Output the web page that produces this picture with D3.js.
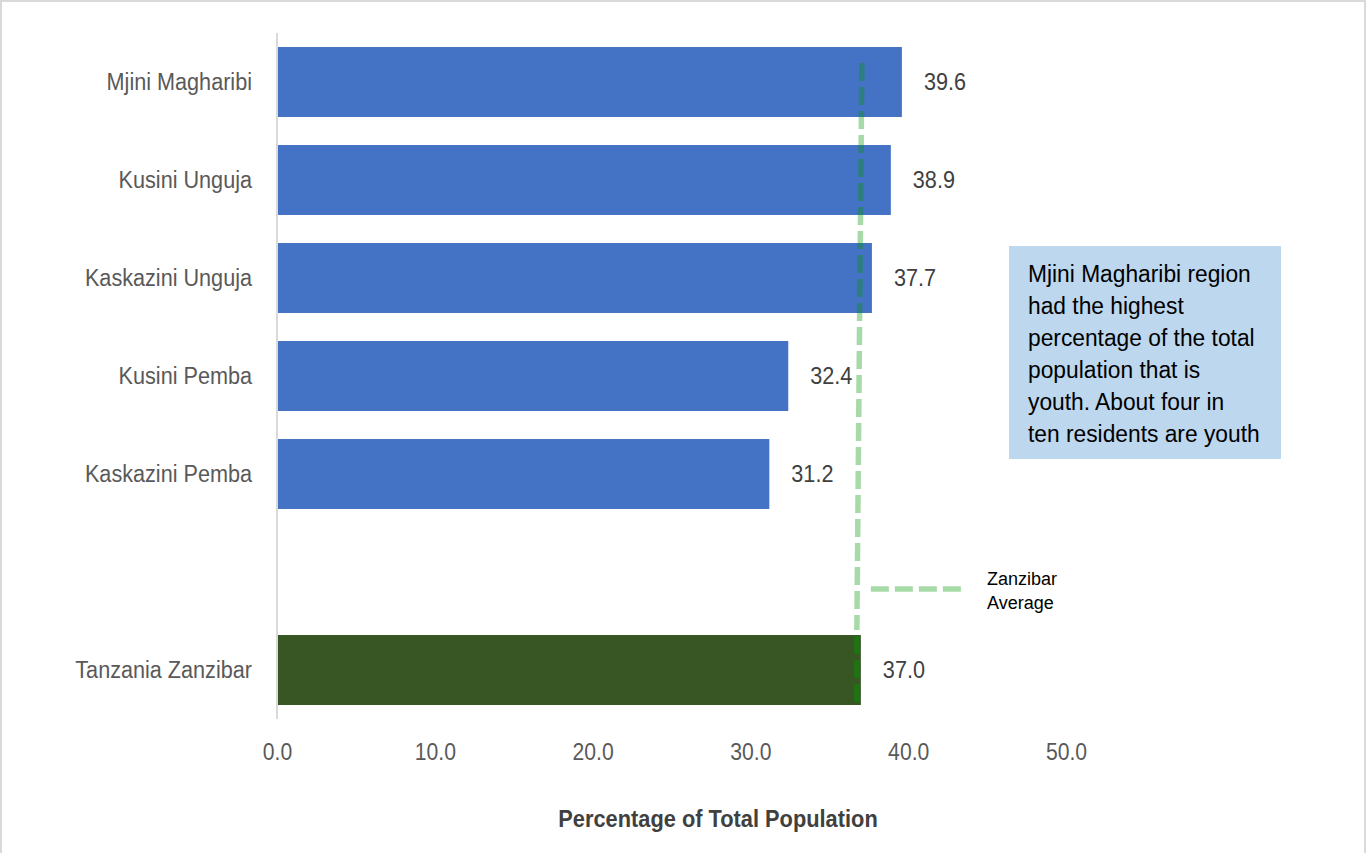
<!DOCTYPE html>
<html>
<head>
<meta charset="utf-8">
<script src="https://cdn.jsdelivr.net/npm/d3@7"></script>
<style>
  html, body { margin: 0; padding: 0; background: #fff; }
  svg { display: block; }
  text { font-family: "Liberation Sans", Arial, sans-serif; }
</style>
</head>
<body>
<svg id="chart" width="1366" height="853"></svg>
<script>
// ---- data ----
const categories = ["Mjini Magharibi", "Kusini Unguja", "Kaskazini Unguja", "Kusini Pemba", "Kaskazini Pemba", "", "Tanzania Zanzibar"];
const values = [39.6, 38.9, 37.7, 32.4, 31.2, null, 37.0];
const barKinds = ["region", "region", "region", "region", "region", "none", "total"];
const xTicks = [0, 10, 20, 30, 40, 50];
const averageValue = 37.0;
const axisTitle = "Percentage of Total Population";
const averageLabel = ["Zanzibar", "Average"];
const noteLines = ["Mjini Magharibi region", "had the highest", "percentage of the total", "population that is", "youth. About four in", "ten residents are youth"];

// ---- setup ----
const svg = d3.select("#chart");
const W = 1366, H = 853;

// condense glyphs horizontally to mimic the reference's narrow rendering
function condense(sel, factor) {
  sel.each(function () {
    const len = this.getComputedTextLength();
    if (len > 0) {
      d3.select(this).attr("textLength", len * factor).attr("lengthAdjust", "spacingAndGlyphs");
    }
  });
}

// outer border
svg.append("rect").attr("x", 1).attr("y", 1).attr("width", W - 2).attr("height", H + 10)
  .attr("fill", "#fff").attr("stroke", "#d9d9d9").attr("stroke-width", 2);

const x = d3.scaleLinear().domain([0, 50]).range([277, 1066]);
const y = d3.scaleBand().domain(d3.range(categories.length)).range([33, 719])
  .paddingInner(0.286).paddingOuter(0.143);

const colors = { region: "#4472c4", total: "#375623" };

// bars
const rows = categories.map((c, i) => ({ c, v: values[i], k: barKinds[i], i }));
svg.append("g").selectAll("rect").data(rows.filter(d => d.v != null)).join("rect")
  .attr("x", x(0))
  .attr("y", d => y(d.i))
  .attr("width", d => x(d.v) - x(0))
  .attr("height", y.bandwidth())
  .attr("fill", d => colors[d.k]);

// y axis line
svg.append("line").attr("x1", x(0)).attr("x2", x(0)).attr("y1", 33).attr("y2", 719)
  .attr("stroke", "#d9d9d9").attr("stroke-width", 2);

// category labels
svg.append("g").selectAll("text").data(rows.filter(d => d.c)).join("text")
  .attr("x", x(0) - 25)
  .attr("y", d => y(d.i) + y.bandwidth() / 2)
  .attr("dy", "0.35em")
  .attr("text-anchor", "end")
  .attr("font-size", 23)
  .attr("fill", "#595959")
  .text(d => d.c)
  .call(condense, 0.94);

// value labels
svg.append("g").selectAll("text").data(rows.filter(d => d.v != null)).join("text")
  .attr("x", d => x(d.v) + 22)
  .attr("y", d => y(d.i) + y.bandwidth() / 2)
  .attr("dy", "0.35em")
  .attr("font-size", 23)
  .attr("fill", "#404040")
  .text(d => d.v.toFixed(1))
  .call(condense, 0.94);

// x axis tick labels
const xAxis = d3.axisBottom(x).tickValues(xTicks).tickFormat(d3.format(".1f")).tickSize(0).tickPadding(0);
const gx = svg.append("g").attr("transform", "translate(0,752)").call(xAxis);
gx.select(".domain").remove();
gx.selectAll("text").attr("font-size", 23).attr("fill", "#595959")
  .attr("font-family", "'Liberation Sans', Arial, sans-serif").attr("dy", "0.35em").attr("y", 0)
  .call(condense, 0.92);

// axis title
svg.append("text").attr("x", (557 + 879) / 2).attr("y", 818).attr("dy", "0.35em")
  .attr("text-anchor", "middle").attr("font-size", 24.5).attr("font-weight", "bold")
  .attr("fill", "#404040").text(axisTitle)
  .call(condense, 0.89);

// average dashed line
const dashColor = "#009600";
const avgG = svg.append("g");
avgG.append("line")
  .attr("x1", x(averageValue) + 1).attr("y1", 63)
  .attr("x2", x(averageValue) - 4).attr("y2", 630)
  .attr("stroke", dashColor).attr("stroke-opacity", 0.35)
  .attr("stroke-width", 5.5).attr("stroke-dasharray", "18 6");
avgG.append("line")
  .attr("x1", x(averageValue) + 10).attr("y1", 589)
  .attr("x2", 961).attr("y2", 589)
  .attr("stroke", dashColor).attr("stroke-opacity", 0.35)
  .attr("stroke-width", 5.5).attr("stroke-dasharray", "18 6");
// segment within total bar
avgG.append("line")
  .attr("x1", x(averageValue) - 4).attr("y1", 636)
  .attr("x2", x(averageValue) - 4).attr("y2", 704)
  .attr("stroke", dashColor).attr("stroke-opacity", 0.45)
  .attr("stroke-width", 5.5).attr("stroke-dasharray", "18 6");

svg.append("g").selectAll("text").data(averageLabel).join("text")
  .attr("x", 987).attr("y", (d, i) => 579 + i * 24).attr("dy", "0.35em")
  .attr("font-size", 18).attr("fill", "#000").text(d => d);

// note box
svg.append("rect").attr("x", 1009).attr("y", 246).attr("width", 272).attr("height", 213)
  .attr("fill", "#bdd7ee");
svg.append("g").selectAll("text").data(noteLines).join("text")
  .attr("x", 1028).attr("y", (d, i) => 274 + i * 32).attr("dy", "0.35em")
  .attr("font-size", 23).attr("fill", "#000").text(d => d)
  .call(condense, 0.99);
</script>
</body>
</html>
